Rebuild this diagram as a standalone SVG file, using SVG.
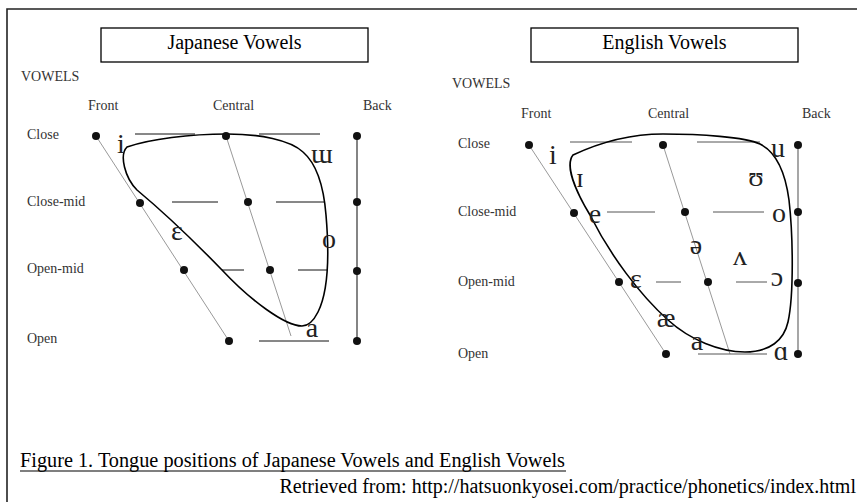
<svg xmlns="http://www.w3.org/2000/svg" width="857" height="502" viewBox="0 0 857 502">
<style>
text{font-family:"Liberation Serif","DejaVu Serif",serif}
.lbl{font-size:14px;fill:#333}
.title{font-size:20px;fill:#000;text-anchor:middle}
.v{font-size:28px;fill:#222;text-anchor:middle}
.box{fill:#fff;stroke:#000;stroke-width:1.3}
.gl{stroke:#999;stroke-width:1;fill:none}
.hl{stroke:#111;stroke-width:1;fill:none}
.hle{stroke:#555;stroke-width:1;fill:none}
.blob{fill:none;stroke:#000;stroke-width:1.6}
.dot{fill:#111}
.cap{font-size:20px;fill:#000}
</style>
<rect width="857" height="502" fill="#fff"/>
<path d="M7,502 V9 H857" fill="none" stroke="#222" stroke-width="1.6"/>

<g id="japanese-chart">
  <rect class="box" x="101" y="28" width="267" height="34"/>
  <text class="title" x="234.5" y="49">Japanese Vowels</text>
  <text class="lbl" x="21" y="81">VOWELS</text>
  <text class="lbl" x="88" y="110">Front</text>
  <text class="lbl" x="213" y="110">Central</text>
  <text class="lbl" x="363" y="110">Back</text>
  <text class="lbl" x="27" y="139">Close</text>
  <text class="lbl" x="27" y="206">Close-mid</text>
  <text class="lbl" x="27" y="273">Open-mid</text>
  <text class="lbl" x="27" y="343">Open</text>
</g>
<g id="japanese-connectors">
  <line class="gl" x1="96" y1="136" x2="229" y2="341"/>
  <line class="gl" x1="226" y1="136" x2="291" y2="336"/>
  <line x1="357" y1="136" x2="357" y2="341" stroke="#333" stroke-width="1.2"/>
  <line class="hl" x1="135" y1="134" x2="195" y2="134"/>
  <line class="hl" x1="259" y1="134" x2="320" y2="134"/>
  <line class="hl" x1="172" y1="202" x2="218" y2="202"/>
  <line class="hl" x1="276" y1="202" x2="325" y2="202"/>
  <line class="hl" x1="222" y1="270" x2="244" y2="270"/>
  <line class="hl" x1="298" y1="270" x2="327" y2="270"/>
  <line class="hl" x1="259" y1="341" x2="329" y2="341"/>
  <path class="blob" d="M127,147 C150,139 190,134 227,134 C260,134 290,140 303,152 C318,165 324,190 326,215 C329,250 329,290 318,312 C314,320 309,326 302,326 C285,326 250,300 222,270 C190,237 155,205 137,190 C125,178 119,155 127,147 Z"/>
</g>
<g id="japanese-points">
  <circle class="dot" cx="96" cy="136" r="4"/>
  <circle class="dot" cx="226" cy="136" r="4"/>
  <circle class="dot" cx="357" cy="136" r="4"/>
  <circle class="dot" cx="140" cy="203" r="4"/>
  <circle class="dot" cx="248" cy="202" r="4"/>
  <circle class="dot" cx="357" cy="202" r="4"/>
  <circle class="dot" cx="184" cy="270" r="4"/>
  <circle class="dot" cx="270" cy="270" r="4"/>
  <circle class="dot" cx="357" cy="271" r="4"/>
  <circle class="dot" cx="229" cy="341" r="4"/>
  <circle class="dot" cx="357" cy="341" r="4"/>
</g>
<g id="japanese-vowels">
  <text class="v" x="121" y="153">i</text>
  <text class="v" x="322" y="163">ɯ</text>
  <text class="v" x="177" y="240">ɛ</text>
  <text class="v" x="329" y="248">o</text>
  <text class="v" x="312" y="337">a</text>
</g>

<g id="english-chart">
  <rect class="box" x="531" y="28" width="267" height="34"/>
  <text class="title" x="664.5" y="49">English Vowels</text>
  <text class="lbl" x="452" y="88">VOWELS</text>
  <text class="lbl" x="521" y="118">Front</text>
  <text class="lbl" x="648" y="118">Central</text>
  <text class="lbl" x="802" y="118">Back</text>
  <text class="lbl" x="458" y="148">Close</text>
  <text class="lbl" x="458" y="216">Close-mid</text>
  <text class="lbl" x="458" y="286">Open-mid</text>
  <text class="lbl" x="458" y="358">Open</text>
</g>
<g id="english-connectors">
  <line class="gl" x1="529" y1="145" x2="666" y2="354"/>
  <line class="gl" x1="663" y1="145" x2="730" y2="354"/>
  <line x1="798" y1="145" x2="798" y2="354" stroke="#777" stroke-width="1.3"/>
  <line class="hle" x1="570" y1="142" x2="632" y2="142"/>
  <line class="hle" x1="697" y1="142" x2="760" y2="142"/>
  <line class="hle" x1="607" y1="212" x2="655" y2="212"/>
  <line class="hle" x1="713" y1="212" x2="764" y2="212"/>
  <line class="hle" x1="656" y1="282" x2="681" y2="282"/>
  <line class="hle" x1="736" y1="282" x2="767" y2="282"/>
  <line class="hle" x1="698" y1="354" x2="767" y2="354"/>
  <path class="blob" d="M573,155 C605,140 635,134 663,134 C700,134 745,137 760,144 C776,152 785,170 789,200 C793,235 794,295 788,322 C784,340 770,352 745,352 C720,352 690,340 668,320 C640,295 610,255 590,215 C575,190 565,165 573,155 Z"/>
</g>
<g id="english-points">
  <circle class="dot" cx="529" cy="145" r="4"/>
  <circle class="dot" cx="663" cy="145" r="4"/>
  <circle class="dot" cx="798" cy="145" r="4"/>
  <circle class="dot" cx="574" cy="213" r="4"/>
  <circle class="dot" cx="685" cy="212" r="4"/>
  <circle class="dot" cx="798" cy="212" r="4"/>
  <circle class="dot" cx="619" cy="282" r="4"/>
  <circle class="dot" cx="708" cy="282" r="4"/>
  <circle class="dot" cx="798" cy="283" r="4"/>
  <circle class="dot" cx="666" cy="354" r="4"/>
  <circle class="dot" cx="798" cy="354" r="4"/>
</g>
<g id="english-vowels">
  <text class="v" x="553" y="164">i</text>
  <text class="v" x="778" y="157">u</text>
  <text class="v" x="580" y="187">ɪ</text>
  <text class="v" x="756" y="186">ʊ</text>
  <text class="v" x="595" y="223">e</text>
  <text class="v" x="779" y="222">o</text>
  <text class="v" x="696" y="254">ə</text>
  <text class="v" x="740" y="265">ʌ</text>
  <text class="v" x="636" y="288">ɛ</text>
  <text class="v" x="777" y="286">ɔ</text>
  <text class="v" x="666" y="327">æ</text>
  <text class="v" x="697" y="350">a</text>
  <text class="v" x="781" y="360">ɑ</text>
</g>

<g id="caption">
  <text class="cap" x="20" y="467" textLength="545" lengthAdjust="spacingAndGlyphs">Figure 1. Tongue positions of Japanese Vowels and English Vowels</text>
  <line x1="20" y1="471" x2="566" y2="471" stroke="#000" stroke-width="1.2"/>
  <text class="cap" x="856" y="493" text-anchor="end">Retrieved from: http://hatsuonkyosei.com/practice/phonetics/index.html</text>
</g>
</svg>
